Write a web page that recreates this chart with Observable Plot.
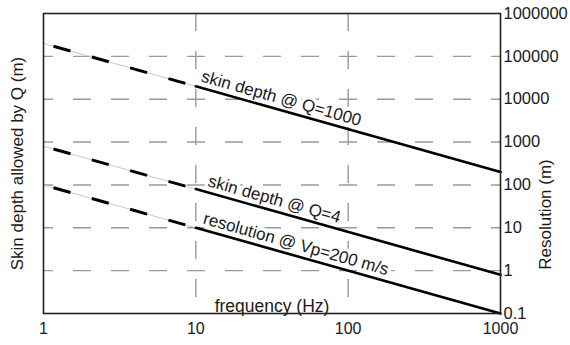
<!DOCTYPE html>
<html><head><meta charset="utf-8">
<script src="https://cdn.jsdelivr.net/npm/d3@7"></script>
<script src="https://cdn.jsdelivr.net/npm/@observablehq/plot@0.6"></script>
<style>body{margin:0;background:#fff}</style>
</head><body><div id="chart"></div>
<script>
const frequencies = [1, 10, 1000];
const skinDepthQ1000 = [200000, 20000, 200];
const skinDepthQ4 = [800, 80, 0.8];
const resolutionVp200 = [100, 10, 0.1];
const seriesLabels = ["skin depth @ Q=1000", "skin depth @ Q=4", "resolution @ Vp=200 m/s"];
const xTicks = [1, 10, 100, 1000];
const xTickLabels = ["1", "10", "100", "1000"];
const yTicks = [0.1, 1, 10, 100, 1000, 10000, 100000, 1000000];
const yTickLabels = ["0.1", "1", "10", "100", "1000", "10000", "100000", "1000000"];
const xTitle = "frequency (Hz)";
const leftTitle = "Skin depth allowed by Q (m)";
const rightTitle = "Resolution (m)";

const W = 570, H = 345, mL = 43, mR = 70, mT = 13, mB = 32;
const series = [skinDepthQ1000, skinDepthQ4, resolutionVp200];
const rows = series.flatMap((vals, s) => frequencies.map((f, i) => ({s, f, v: vals[i], i})));
const dashedRows = rows.filter(d => d.i <= 1);
const solidRows = rows.filter(d => d.i >= 1);

const xs = Plot.scale({x: {type: "log", domain: [1, 1000], range: [mL, W - mR]}});
const ys = Plot.scale({y: {type: "log", domain: [0.1, 1e6], range: [H - mB, mT]}});

const alongOffsets = [3, 10, 5];
const perp = 6;
const labelRows = series.map((vals, s) => {
  const x1 = xs.apply(frequencies[1]), y1 = ys.apply(vals[1]);
  const x2 = xs.apply(frequencies[2]), y2 = ys.apply(vals[2]);
  const th = Math.atan2(y2 - y1, x2 - x1);
  const a = alongOffsets[s];
  return {s, f: frequencies[1], v: vals[1], label: seriesLabels[s],
    ang: th * 180 / Math.PI,
    dx: a * Math.cos(th) + perp * Math.sin(th),
    dy: a * Math.sin(th) - perp * Math.cos(th)};
});

const gridStyle = {stroke: "#9a9a9a", strokeWidth: 1.4, strokeOpacity: 1, strokeDasharray: "18,20"};
const ink = "#1a1a1a";

const marks = [
  Plot.ruleX(xTicks.slice(1, -1), {x: d => d, ...gridStyle, strokeDashoffset: 0}),
  Plot.ruleY(yTicks.slice(1, -1), {y: d => d, ...gridStyle, strokeDashoffset: 8}),
  ...labelRows.map(d => Plot.text([d], {x: "f", y: "v", text: "label", rotate: d.ang,
    textAnchor: "start", lineAnchor: "bottom", dx: d.dx, dy: d.dy,
    fontSize: 17, fill: "white", stroke: "white", strokeWidth: 7})),
  Plot.line(dashedRows, {x: "f", y: "v", z: "s", stroke: "#c8c8c8", strokeWidth: 1}),
  Plot.line(dashedRows, {x: "f", y: "v", z: "s", stroke: "#000", strokeWidth: 3,
    strokeDasharray: "17.6,22.2", strokeDashoffset: 29.4, strokeLinecap: "butt"}),
  Plot.line(solidRows, {x: "f", y: "v", z: "s", stroke: "#000", strokeWidth: 2.6}),
  ...labelRows.map(d => Plot.text([d], {x: "f", y: "v", text: "label", rotate: d.ang,
    textAnchor: "start", lineAnchor: "bottom", dx: d.dx, dy: d.dy,
    fontSize: 17, fill: ink})),
  Plot.text([xTitle], {frameAnchor: "bottom", lineAnchor: "bottom", dy: -2, fontSize: 17.5, fill: ink}),
  Plot.text([leftTitle], {frameAnchor: "left", textAnchor: "middle", rotate: -90, dx: -26, fontSize: 17, fill: ink}),
  Plot.text([rightTitle], {frameAnchor: "right", textAnchor: "middle", rotate: -90, dx: 45, dy: 51, fontSize: 17, fill: ink}),
  Plot.frame({stroke: "#222", strokeWidth: 1.6}),
  Plot.axisX(xTicks, {anchor: "bottom", tickSize: 0, tickPadding: 9, fontSize: 16, fill: ink,
    tickFormat: d => xTickLabels[xTicks.indexOf(d)], label: null}),
  Plot.axisY(yTicks, {anchor: "right", tickSize: 0, tickPadding: 3, fontSize: 16.5, fill: ink,
    tickFormat: d => yTickLabels[yTicks.indexOf(d)], label: null})
];

const chart = Plot.plot({
  width: W, height: H,
  marginLeft: mL, marginRight: mR, marginTop: mT, marginBottom: mB,
  x: {type: "log", domain: [1, 1000]},
  y: {type: "log", domain: [0.1, 1e6]},
  style: {fontFamily: "'Liberation Sans', Arial, sans-serif", fontSize: "16px", background: "white", color: ink},
  marks
});
document.getElementById("chart").appendChild(chart);
</script>
</body></html>
